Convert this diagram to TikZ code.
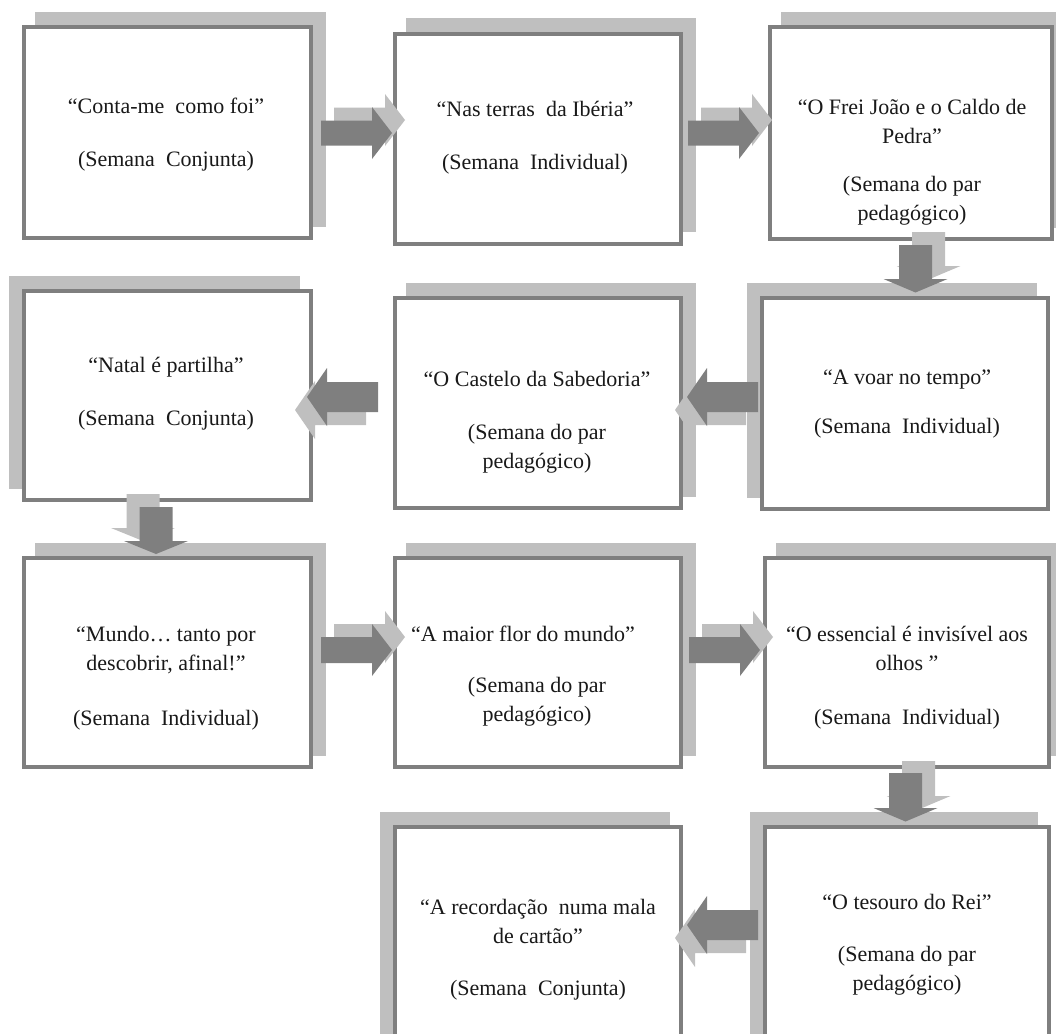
\documentclass[tikz,border=0pt]{standalone}
\usepackage{fontspec}
\setmainfont{Liberation Serif}
\usetikzlibrary{shadows}
\definecolor{bord}{HTML}{7F7F7F}
\definecolor{shd}{HTML}{BFBFBF}
\newcommand\tallstrut{\rule{0pt}{17pt}}
% x y rot dx dy bodylen halfthick headlen halfhead
\newcommand\blk[9]{%
 \begin{scope}[shift={(#1,#2)}]
  \fill[shd, shift={(#4,#5)}, rotate=#3] (0,-#7) -- (#6,-#7) -- (#6,-#9) -- ({#6+#8},0) -- (#6,#9) -- (#6,#7) -- (0,#7) -- cycle;
  \fill[bord, rotate=#3] (0,-#7) -- (#6,-#7) -- (#6,-#9) -- ({#6+#8},0) -- (#6,#9) -- (#6,#7) -- (0,#7) -- cycle;
 \end{scope}}
\tikzset{
 box/.style={draw=bord, line width=4.5pt, fill=white, inner sep=0pt},
 sh/.style 2 args={general shadow={fill=shd, draw=shd, line width=4.5pt, shadow xshift=#1pt, shadow yshift=#2pt}},
 txt/.style={font=\fontsize{22}{29}\selectfont, align=center, inner sep=0pt, anchor=north, text=black!90}
}
\begin{document}
\begin{tikzpicture}[x=1pt,y=-1pt]
\useasboundingbox (0,0) rectangle (1056,1033);
% boxes
\node[box, minimum width=287pt, minimum height=211pt, sh={13}{13}] (b1) at (167.5,132.5) {};
\node[box, minimum width=286pt, minimum height=210pt, sh={13}{14}] (b2) at (538,139) {};
\node[box, minimum width=282pt, minimum height=212pt, sh={13}{13}] (b3) at (911,133) {};
\node[box, minimum width=287pt, minimum height=209pt, sh={-13}{13}] (b4) at (167.5,395.5) {};
\node[box, minimum width=286pt, minimum height=210pt, sh={13}{13}] (b5) at (538,403) {};
\node[box, minimum width=286pt, minimum height=211pt, sh={-13}{13}] (b6) at (905,403.5) {};
\node[box, minimum width=287pt, minimum height=209pt, sh={13}{13}] (b7) at (167.5,662.5) {};
\node[box, minimum width=286pt, minimum height=209pt, sh={13}{13}] (b8) at (538,662.5) {};
\node[box, minimum width=284pt, minimum height=209pt, sh={13}{13}] (b9) at (907,662.5) {};
\node[box, minimum width=284pt, minimum height=218pt, sh={-13}{13}] (b10) at (907,936) {};
\node[box, minimum width=286pt, minimum height=218pt, sh={-13}{13}] (b11) at (538,936) {};
% texts (y = first baseline - 17)
\node[txt] (t1) at (166,96) {\tallstrut“Conta-me\ \ como foi”\\[24pt](Semana\ \ Conjunta)};
\node[txt] (t2) at (535,99) {\tallstrut“Nas terras\ \ da Ibéria”\\[24pt](Semana\ \ Individual)};
\node[txt] (t3) at (912,97) {\tallstrut“O Frei João e o Caldo de\\Pedra”\\[19pt](Semana do par\\pedagógico)};
\node[txt] (t4) at (166,355) {\tallstrut“Natal é partilha”\\[24pt](Semana\ \ Conjunta)};
\node[txt] (t5) at (537,369) {\tallstrut“O Castelo da Sabedoria”\\[24pt](Semana do par\\pedagógico)};
\node[txt] (t6) at (907,367) {\tallstrut“A voar no tempo”\\[20pt](Semana\ \ Individual)};
\node[txt] (t7) at (166,624) {\tallstrut“Mundo… tanto por\\descobrir, afinal!”\\[26pt](Semana\ \ Individual)};
\node[txt] (t8) at (537,624) {\tallstrut“A maior flor do mundo”\hspace*{28pt}\\[22pt](Semana do par\\pedagógico)};
\node[txt] (t9) at (907,624) {\tallstrut“O essencial é invisível aos\\olhos ”\\[25pt](Semana\ \ Individual)};
\node[txt] (t10) at (907,892) {\tallstrut“O tesouro do Rei”\\[23pt](Semana do par\\pedagógico)};
\node[txt] (t11) at (538,897) {\tallstrut“A recordação\ \ numa mala\\de cartão”\\[23pt](Semana\ \ Conjunta)};
% arrows
\blk{321}{133}{0}{13}{-13}{51}{12.5}{20}{26}
\blk{688}{133}{0}{13}{-13}{51}{12.5}{20}{26}
\blk{915.5}{245}{-90}{13}{-13}{34}{16.5}{13.5}{32}
\blk{758}{397}{180}{-12}{13}{51}{15}{20}{29}
\blk{378}{397}{180}{-12}{13}{51}{15}{20}{29}
\blk{156}{507}{-90}{-13}{-13}{34}{16.5}{13}{32}
\blk{321}{650}{0}{13}{-13}{51}{13}{20}{26}
\blk{689}{650}{0}{13}{-13}{51}{13}{20}{26}
\blk{905.5}{773}{-90}{13}{-12}{35}{16.5}{13.5}{32}
\blk{758}{925}{180}{-12}{13}{51}{15}{20}{29}
\end{tikzpicture}
\end{document}
